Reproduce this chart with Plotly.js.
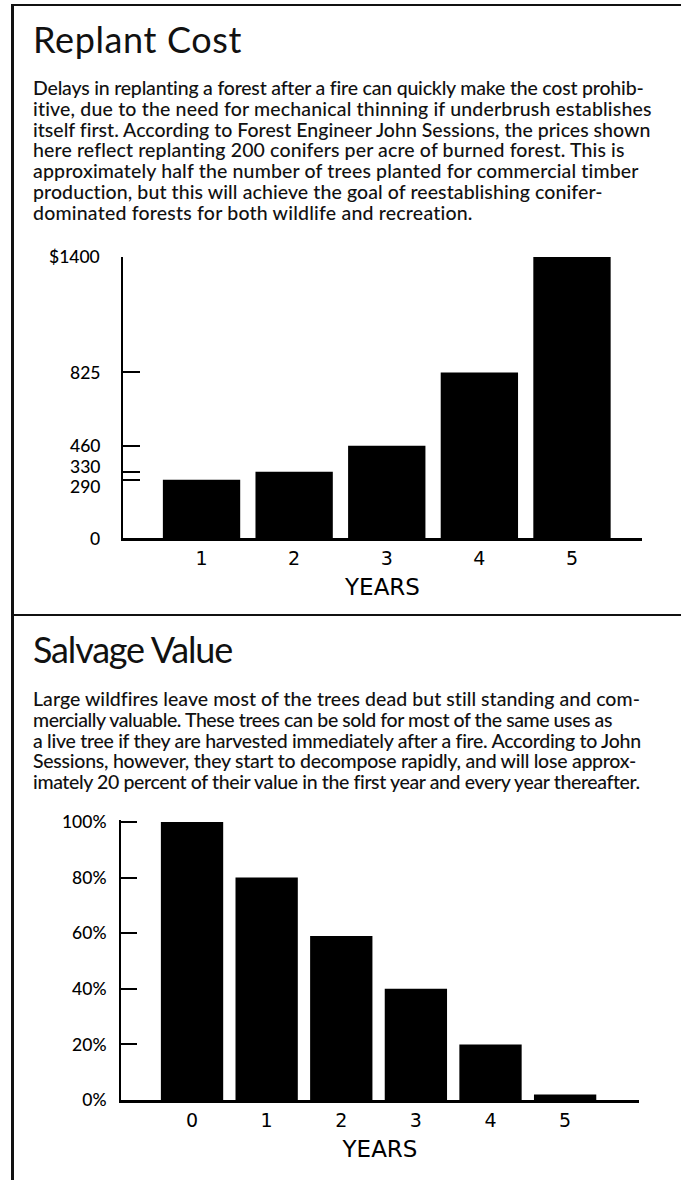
<!DOCTYPE html>
<html>
<head>
<meta charset="utf-8">
<script src="https://cdn.plot.ly/plotly-3.0.1.min.js"></script>
<style>
  html, body { margin:0; padding:0; background:#fff; }
  body { width:681px; height:1180px; position:relative; overflow:hidden; }
  #chart { position:absolute; left:0; top:0; width:681px; height:1180px; }
  .rule { position:absolute; background:#111; }
  .t { position:absolute; white-space:nowrap; color:#111; font-family:Lato, "Liberation Sans", sans-serif; }
  .title { font-size:36px; line-height:36px; font-weight:400; }
  .body { font-size:19.5px; line-height:21px; font-weight:500; }
  .fit { display:inline-block; }
</style>
</head>
<body>
<div id="chart"></div>

<div class="rule" style="left:11px; top:4px; width:670px; height:2px;"></div>
<div class="rule" style="left:11px; top:4px; width:3px; height:1176px;"></div>
<div class="rule" style="left:11px; top:614px; width:670px; height:2px;"></div>

<div id="texts"></div>

<script>
// ---- data ----
const replantYears = [1, 2, 3, 4, 5];
const replantCost = [290, 330, 460, 825, 1400];
const costTickVals = [0, 290, 330, 460, 825, 1400];
const costTickText = ['0', '290', '330', '460', '825', '$1400'];

const salvageYears = [0, 1, 2, 3, 4, 5];
const salvageValue = [100, 80, 59, 40, 20, 2];
const valueTickVals = [0, 20, 40, 60, 80, 100];
const valueTickText = ['0%', '20%', '40%', '60%', '80%', '100%'];

const replantTitle = 'Replant Cost';
const replantLines = [
  'Delays in replanting a forest after a fire can quickly make the cost prohib-',
  'itive, due to the need for mechanical thinning if underbrush establishes',
  'itself first. According to Forest Engineer John Sessions, the prices shown',
  'here reflect replanting 200 conifers per acre of burned forest. This is',
  'approximately half the number of trees planted for commercial timber',
  'production, but this will achieve the goal of reestablishing conifer-',
  'dominated forests for both wildlife and recreation.'
];
const salvageTitle = 'Salvage Value';
const salvageLines = [
  'Large wildfires leave most of the trees dead but still standing and com-',
  'mercially valuable. These trees can be sold for most of the same uses as',
  'a live tree if they are harvested immediately after a fire. According to John',
  'Sessions, however, they start to decompose rapidly, and will lose approx-',
  'imately 20 percent of their value in the first year and every year thereafter.'
];
const axisTitle = 'YEARS';

// ---- text placement (pixel layout) ----
const textLeft = 33;
const blocks = [
  {title: replantTitle, titleTop: 21, titleRight: 242, lines: replantLines, firstTop: 77,
   rights: [643, 652, 650, 625, 639, 603, 473]},
  {title: salvageTitle, titleTop: 631, titleRight: 232, lines: salvageLines, firstTop: 688,
   rights: [640, 612, 640, 636, 639]}
];
const lineStep = 20.8;
const holder = document.getElementById('texts');
const fits = [];
blocks.forEach(b => {
  const td = document.createElement('div');
  td.className = 't title';
  td.style.left = textLeft + 'px';
  td.style.top = b.titleTop + 'px';
  const ts = document.createElement('span');
  ts.className = 'fit';
  ts.textContent = b.title;
  td.appendChild(ts);
  holder.appendChild(td);
  fits.push([ts, b.titleRight - textLeft]);
  b.lines.forEach((ln, i) => {
    const d = document.createElement('div');
    d.className = 't body';
    d.style.left = textLeft + 'px';
    d.style.top = (b.firstTop + i * lineStep) + 'px';
    const s = document.createElement('span');
    s.className = 'fit';
    s.textContent = ln;
    d.appendChild(s);
    holder.appendChild(d);
    fits.push([s, b.rights[i] - textLeft]);
  });
});
function fitAll() {
  fits.forEach(([s, w]) => {
    s.style.letterSpacing = '0px';
    const nat = s.getBoundingClientRect().width;
    const n = s.textContent.length;
    s.style.letterSpacing = ((w - nat) / n) + 'px';
  });
}
fitAll();
if (document.fonts && document.fonts.ready) document.fonts.ready.then(fitAll);

// ---- chart ----
const W = 681, H = 1180;
const px = v => v / W;
const py = v => 1 - v / H;

const common = {
  showgrid: false, zeroline: false, fixedrange: true, automargin: false,
  linecolor: '#000', color: '#000'
};

const traces = [
  {type: 'bar', x: replantYears, y: replantCost, xaxis: 'x', yaxis: 'y',
   marker: {color: '#000', line: {width: 0}}, hoverinfo: 'x+y'},
  {type: 'bar', x: salvageYears, y: salvageValue, xaxis: 'x2', yaxis: 'y2',
   marker: {color: '#000', line: {width: 0}}, hoverinfo: 'x+y'}
];

const xTickFont = {family: 'DejaVu Sans', size: 19, color: '#000'};
const xTitleFont = {family: 'DejaVu Sans', size: 23, color: '#000'};
const yTickFont = {family: 'Lato', size: 17.5, color: '#000', weight: 500};

// Cost axis labels are set beside their ticks; the two closely spaced ones
// (290 / 330) are nudged apart slightly so they stay legible, as in the original.
const costLabelNudge = {290: -7, 330: 5};
const costAnnotations = costTickVals.map((v, i) => ({
  xref: 'paper', yref: 'y', x: px(102), y: v, xanchor: 'right', yanchor: 'middle',
  text: costTickText[i], showarrow: false, font: yTickFont,
  yshift: costLabelNudge[v] || 0
}));

const layout = {
  width: W, height: H,
  margin: {l: 0, r: 0, t: 0, b: 0},
  paper_bgcolor: 'rgba(0,0,0,0)', plot_bgcolor: 'rgba(0,0,0,0)',
  showlegend: false, bargap: 0.165,
  annotations: costAnnotations,
  xaxis: Object.assign({}, common, {
    domain: [px(123), px(642)], range: [0.152, 5.756], anchor: 'y',
    tickmode: 'array', tickvals: replantYears, ticktext: replantYears.map(String),
    showline: true, linewidth: 2.5, ticks: '', tickfont: xTickFont, ticklabelstandoff: 2,
    title: {text: axisTitle, font: xTitleFont, standoff: 11}
  }),
  yaxis: Object.assign({}, common, {
    domain: [py(538), py(257)], range: [0, 1400], anchor: 'x',
    tickmode: 'array', tickvals: costTickVals, ticktext: costTickText,
    showticklabels: false,
    showline: true, linewidth: 2, ticks: 'inside', ticklen: 17, tickwidth: 2, tickcolor: '#000'
  }),
  xaxis2: Object.assign({}, common, {
    domain: [px(121), px(639)], range: [-0.952, 5.99], anchor: 'y2',
    tickmode: 'array', tickvals: salvageYears, ticktext: salvageYears.map(String),
    showline: true, linewidth: 2.5, ticks: '', tickfont: xTickFont, ticklabelstandoff: 2,
    title: {text: axisTitle, font: xTitleFont, standoff: 11}
  }),
  yaxis2: Object.assign({}, common, {
    domain: [py(1100), py(820)], range: [0, 100.7], anchor: 'x2',
    tickmode: 'array', tickvals: valueTickVals, ticktext: valueTickText,
    showline: true, linewidth: 2, ticks: 'inside', ticklen: 16, tickwidth: 2, tickcolor: '#000',
    tickfont: yTickFont, ticklabelstandoff: 9
  })
};

Plotly.newPlot('chart', traces, layout, {displayModeBar: false, staticPlot: true});
</script>
</body>
</html>
